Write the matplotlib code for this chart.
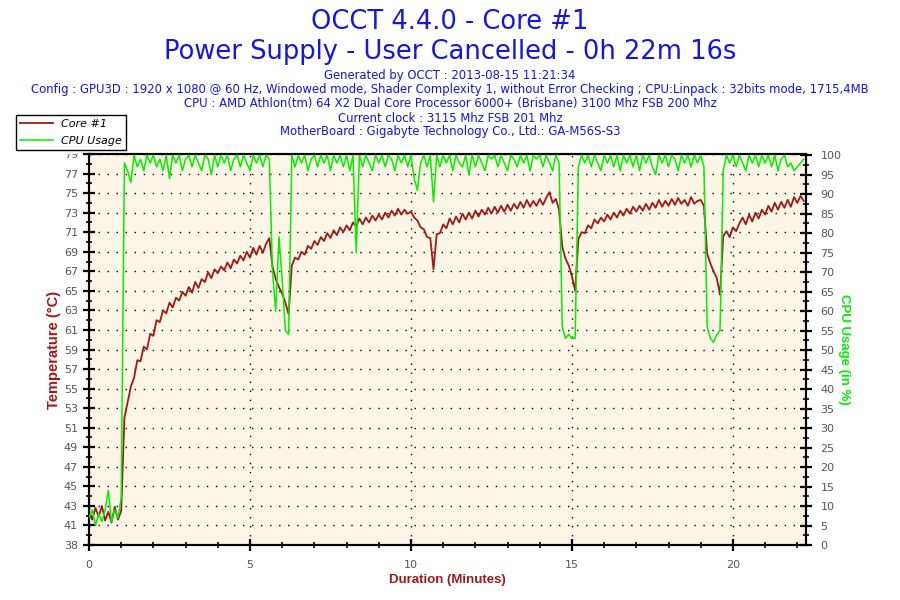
import numpy as np
import matplotlib
matplotlib.use("Agg")
import matplotlib.pyplot as plt
from matplotlib.ticker import FixedLocator, MultipleLocator
from matplotlib.transforms import Bbox, TransformedBbox

# ---------------- data (sampled every 0.1 minute) ----------------
sample_step_min = 0.1
duration_min = 22.27

core1_temp = [
    42.3, 41.6, 42.8, 41.9, 43.0, 41.5, 42.4, 41.3, 42.9, 41.6,   # 0.x
    42.5, 52.0, 53.6, 55.2, 56.1, 57.9, 57.8, 59.3, 59.0, 60.6,   # 1.x
    60.4, 62.0, 61.8, 63.0, 62.7, 63.8, 63.3, 64.3, 64.0, 64.9,   # 2.x
    64.5, 65.4, 64.8, 65.9, 65.3, 66.2, 65.9, 66.9, 66.3, 67.2,   # 3.x
    66.8, 67.5, 67.1, 67.9, 67.3, 68.2, 67.8, 68.6, 68.1, 69.0,   # 4.x
    68.4, 69.4, 68.7, 69.6, 68.9, 69.8, 70.4, 67.5, 66.2, 65.4,   # 5.x
    64.7, 63.8, 62.6, 67.6, 68.4, 68.2, 69.0, 68.7, 69.6, 69.3,   # 6.x
    70.1, 69.7, 70.5, 70.1, 70.9, 70.4, 71.2, 70.7, 71.5, 71.0,   # 7.x
    71.7, 71.2, 72.0, 71.6, 72.4, 71.8, 72.5, 72.0, 72.7, 72.2,   # 8.x
    72.8, 72.3, 73.0, 72.5, 73.2, 72.7, 73.4, 72.8, 73.3, 72.9,   # 9.x
    73.1, 72.5, 72.2, 71.5, 71.3, 70.5, 70.4, 67.2, 70.8, 70.9,   # 10.x
    71.8, 71.4, 72.4, 71.8, 72.6, 72.0, 72.9, 72.3, 73.0, 72.4,   # 11.x
    73.2, 72.6, 73.3, 72.8, 73.5, 72.9, 73.6, 73.0, 73.7, 73.1,   # 12.x
    73.8, 73.2, 73.9, 73.4, 74.1, 73.5, 74.3, 73.6, 74.2, 73.7,   # 13.x
    74.4, 73.8, 74.5, 75.1, 74.0, 74.4, 73.3, 69.5, 68.3, 67.6,   # 14.x
    66.5, 65.0, 70.3, 71.0, 70.9, 71.7, 71.4, 72.3, 71.9, 72.5,   # 15.x
    72.1, 72.8, 72.3, 73.0, 72.5, 73.2, 72.7, 73.4, 72.9, 73.6,   # 16.x
    73.1, 73.7, 73.2, 73.9, 73.3, 74.0, 73.5, 74.3, 73.6, 74.2,   # 17.x
    73.7, 74.4, 73.8, 74.5, 73.9, 74.3, 73.7, 74.6, 73.9, 74.2,   # 18.x
    74.3, 73.7, 68.8, 67.8, 67.0, 66.3, 64.6, 70.6, 71.1, 70.5,   # 19.x
    71.5, 71.1, 71.9, 72.5, 71.8, 72.8, 72.1, 73.0, 72.4, 73.3,   # 20.x
    72.8, 73.7, 73.1, 74.0, 73.3, 74.1, 73.5, 74.3, 73.6, 74.6,   # 21.x
    74.0, 74.7, 74.2,                                             # 22.x
]

cpu_usage = [
    7, 9, 5, 8, 6, 9, 14, 6, 9, 7,              # 0.x
    12, 98, 96, 93, 100, 97, 99, 96, 100, 98,   # 1.x
    100, 97, 99, 96, 100, 94, 100, 98, 100, 96, # 2.x
    99, 100, 97, 100, 98, 96, 100, 99, 95, 100, # 3.x
    97, 100, 98, 100, 96, 99, 100, 97, 100, 98, # 4.x
    96, 100, 98, 100, 97, 100, 99, 70, 60, 79,  # 5.x
    68, 55, 54, 100, 97, 100, 98, 100, 96, 99,  # 6.x
    100, 97, 100, 98, 100, 96, 100, 98, 100, 97,# 7.x
    100, 96, 100, 75, 100, 97, 100, 98, 96, 100,# 8.x
    98, 100, 97, 100, 99, 96, 100, 98, 100, 97, # 9.x
    100, 94, 91, 98, 100, 97, 100, 88, 100, 97, # 10.x
    100, 98, 100, 96, 100, 98, 97, 100, 95, 100,# 11.x
    97, 100, 98, 96, 100, 99, 100, 97, 100, 98, # 12.x
    96, 100, 99, 97, 100, 98, 100, 96, 100, 99, # 13.x
    100, 97, 100, 98, 96, 100, 98, 56, 53, 54,  # 14.x
    53, 53, 97, 100, 98, 100, 97, 100, 98, 96,  # 15.x
    100, 98, 100, 97, 100, 96, 100, 98, 100, 97,# 16.x
    100, 96, 100, 98, 100, 97, 95, 100, 98, 100,# 17.x
    97, 100, 99, 96, 100, 98, 100, 97, 100, 98, # 18.x
    100, 97, 56, 53, 52, 54, 55, 96, 100, 98,   # 19.x
    100, 97, 100, 98, 96, 100, 98, 100, 97, 100,# 20.x
    98, 100, 97, 100, 96, 99, 100, 97, 98, 96,  # 21.x
    97, 98, 99,                                 # 22.x
]

series_names = ["Core #1", "CPU Usage"]
temp_tick_values = [39, 41, 43, 45, 47, 49, 51, 53, 55, 57, 59, 61, 63, 65,
                    67, 69, 71, 73, 75, 77, 79]
temp_tick_labels = ["38", "41", "43", "45", "47", "49", "51", "53", "55", "57",
                    "59", "61", "63", "65", "67", "69", "71", "73", "75", "77", "79"]
x_tick_values = [0, 5, 10, 15, 20]

title_lines = ["OCCT 4.4.0 - Core #1",
               "Power Supply - User Cancelled - 0h 22m 16s"]
info_lines = [
    "Generated by OCCT : 2013-08-15 11:21:34",
    "Config : GPU3D : 1920 x 1080 @ 60 Hz, Windowed mode, Shader Complexity 1, without Error Checking ; CPU:Linpack : 32bits mode, 1715,4MB",
    "CPU : AMD Athlon(tm) 64 X2 Dual Core Processor 6000+ (Brisbane) 3100 Mhz FSB 200 Mhz",
    "Current clock : 3115 Mhz FSB 201 Mhz",
    "MotherBoard : Gigabyte Technology Co., Ltd.: GA-M56S-S3",
]

# ---------------- style ----------------
RED = "#a01818"
GREEN = "#00f000"
BLUE = "#1414e6"
BG = "#fdf5e6"
TICKC = "#555555"

t_temp = np.arange(len(core1_temp)) * sample_step_min
t_cpu = np.arange(len(cpu_usage)) * sample_step_min

fig = plt.figure(figsize=(9, 6), dpi=100)
W, H = 900, 600
ax = fig.add_axes([89 / W, (H - 545) / H, 717 / W, 391 / H])
ax.set_facecolor(BG)
ax2 = ax.twinx()
ax2.patch.set_visible(False)

l1, = ax.plot(t_temp, core1_temp, color=RED, lw=1.3,
              label=series_names[0], zorder=3)
l2, = ax2.plot(t_cpu, cpu_usage, color=GREEN, lw=1.1,
               label=series_names[1], zorder=4)

ax.set_xlim(0, duration_min)
ax.set_ylim(39, 79)
ax2.set_ylim(0, 100.3)

ax.yaxis.set_major_locator(FixedLocator(temp_tick_values))
ax.set_yticklabels(temp_tick_labels)
ax.yaxis.set_minor_locator(FixedLocator(np.arange(40, 79, 2)))
ax.xaxis.set_major_locator(FixedLocator(x_tick_values))
ax.xaxis.set_minor_locator(MultipleLocator(1))
ax2.yaxis.set_major_locator(MultipleLocator(5))
ax2.yaxis.set_minor_locator(MultipleLocator(2.5))

for a in (ax, ax2):
    a.tick_params(which="major", direction="inout", length=9, width=1.6,
                  colors="black", labelcolor=TICKC, labelsize=8)
    a.tick_params(which="minor", direction="inout", length=5, width=1.2,
                  colors="black")
    for s in a.spines.values():
        s.set_linewidth(1.5)
        s.set_color("black")
ax.tick_params(axis="y", which="both", right=False)
ax.tick_params(axis="x", which="both", top=False, pad=6)
ax2.tick_params(axis="y", which="major", pad=6)

ax.grid(True, which="major", color="black", linestyle=(0, (1, 5.5)), lw=1.0)
ax.set_axisbelow(True)

ax.set_xlabel("Duration (Minutes)", color=RED, fontsize=9.5, fontweight="bold",
              family="Liberation Sans", labelpad=3)
ax.set_ylabel("Temperature (°C)", color=RED, fontsize=10.5, fontweight="bold",
              family="Liberation Sans", labelpad=2)
ax2.set_ylabel("CPU Usage (in %)", color=GREEN, fontsize=9.5, fontweight="bold",
               family="Liberation Sans", rotation=270, labelpad=6)

# clip the top "79" label like the original
fig.canvas.draw()
clipbox = TransformedBbox(Bbox([[0, 0], [1, 1 - 153.5 / H]]), fig.transFigure)
for tk in ax.yaxis.get_major_ticks():
    tk.label1.set_clip_on(True)
    tk.label1.set_clip_box(clipbox)

# titles
fig.text(0.5, 1 - 22 / H, title_lines[0], ha="center", va="center",
         color=BLUE, fontsize=18.5, family="DejaVu Sans")
fig.text(0.5, 1 - 52 / H, title_lines[1], ha="center", va="center",
         color=BLUE, fontsize=18.5, family="DejaVu Sans")
for i, line in enumerate(info_lines):
    fig.text(0.5, 1 - (76 + 14 * i) / H, line, ha="center", va="center",
             color=BLUE, fontsize=8.4, family="DejaVu Sans")

leg = fig.legend([l1, l2], series_names, loc="upper left",
                 bbox_to_anchor=(16 / W, 1 - 115 / H), frameon=True,
                 fancybox=False, framealpha=1, edgecolor="black",
                 borderpad=0.35, handlelength=3.0, handletextpad=0.7,
                 labelspacing=0.65, borderaxespad=0,
                 prop={"style": "italic", "size": 8, "family": "DejaVu Sans"})
leg.get_frame().set_linewidth(1.0)

fig.savefig("out.png", dpi=100, facecolor="white")
